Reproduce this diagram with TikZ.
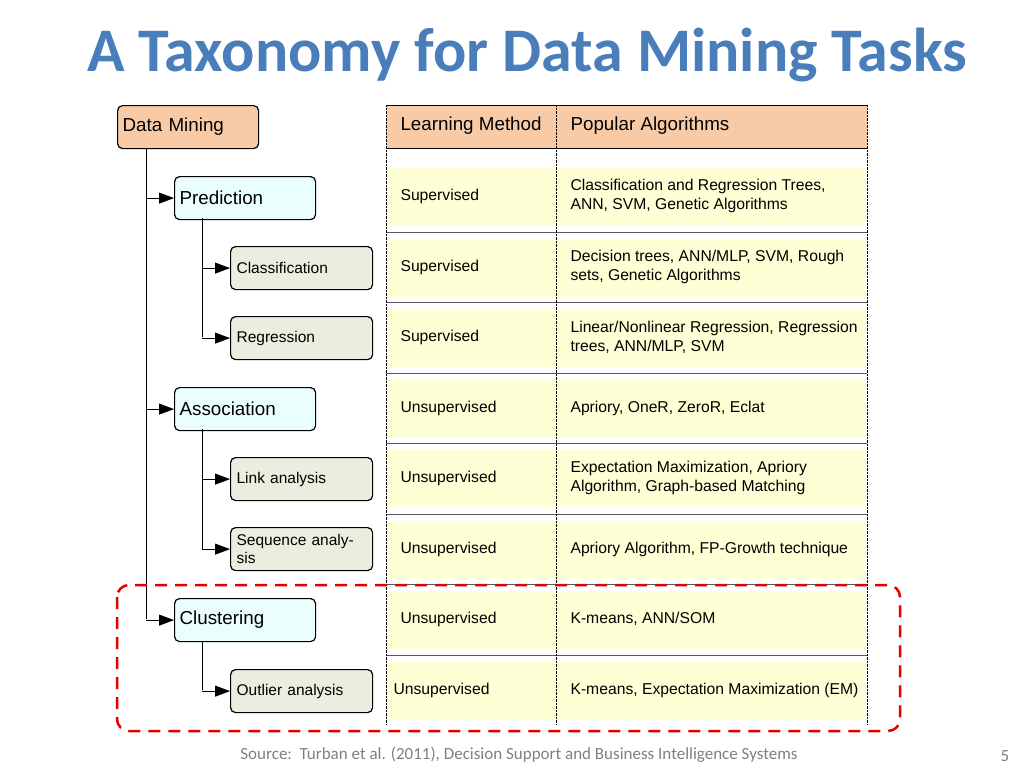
\documentclass[tikz,border=0pt]{standalone}
\usepackage{fontspec}
\setmainfont{Liberation Sans}
\newfontfamily\titlefont{Carlito}
\usetikzlibrary{arrows.meta}
\definecolor{peach}{HTML}{F8CBA6}
\definecolor{cyanbox}{HTML}{EBFEFE}
\definecolor{greybox}{HTML}{EBEEDF}
\definecolor{rowyellow}{HTML}{FFFFD6}
\definecolor{titleblue}{HTML}{4A7EBB}
\tikzset{
  topbox/.style={draw, line width=1.2pt, rounded corners=5pt, minimum width=141pt, minimum height=43pt, anchor=north west, text width=131pt, align=left, font=\fontsize{18.8}{22}\selectfont},
  subbox/.style={draw, line width=1.2pt, rounded corners=5pt, fill=greybox, minimum width=142pt, minimum height=43pt, anchor=north west, inner sep=6pt, text width=130pt, align=left, font=\fontsize{15.5}{18}\selectfont},
  celltext/.style={anchor=west, align=left, font=\fontsize{15.7}{19}\selectfont},
  branch/.style={thick, -{Triangle[length=15pt,width=11pt]}}
}
\begin{document}
\begin{tikzpicture}[x=1pt,y=-1pt]
\useasboundingbox (0,0) rectangle (1024,768);

% title and footer
\node[font=\titlefont\bfseries\fontsize{62}{68}\selectfont, text=titleblue] (title) at (527,55) {A Taxonomy for Data Mining Tasks};
\node[font=\titlefont\fontsize{17}{20}\selectfont, text=gray] (source) at (519,755) {Source:\ \ Turban et al. (2011), Decision Support and Business Intelligence Systems};
\node[font=\titlefont\fontsize{17}{20}\selectfont, text=gray] (pagenum) at (1005,756) {5};

% table rows
\fill[peach] (386,105) rectangle (867,148);
\foreach \y in {196,267,337,408,478,549,619,690}
  \fill[rowyellow] (387,\y-28) rectangle (866,\y+30);
\draw[thick] (386,105) -- (867,105);
\draw[thick] (386,148) -- (867,148);
\foreach \y in {232,302,373,443,514,584,655}
  \draw[gray!70!black] (386,\y) -- (867,\y);
\draw[densely dotted] (386,105) -- (386,725);
\draw[densely dotted] (867,105) -- (867,725);
\draw[densely dotted] (556,105) -- (556,725);
\node[celltext, font=\fontsize{18.8}{22}\selectfont] (hmethod) at (397,126) {Learning Method};
\node[celltext, font=\fontsize{18.8}{22}\selectfont] (halgo) at (567,126) {Popular Algorithms};

% table cells
\node[celltext] (m1) at (397,196) {Supervised};
\node[celltext] (a1) at (567,196) {Classification and Regression Trees,\\ANN, SVM, Genetic Algorithms};
\node[celltext] (m2) at (397,267) {Supervised};
\node[celltext] (a2) at (567,267) {Decision trees, ANN/MLP, SVM, Rough\\sets, Genetic Algorithms};
\node[celltext] (m3) at (397,337) {Supervised};
\node[celltext] (a3) at (567,337) {Linear/Nonlinear Regression, Regression\\trees, ANN/MLP, SVM};
\node[celltext] (m4) at (397,408) {Unsupervised};
\node[celltext] (a4) at (567,408) {Apriory, OneR, ZeroR, Eclat};
\node[celltext] (m5) at (397,478) {Unsupervised};
\node[celltext] (a5) at (567,478) {Expectation Maximization, Apriory\\Algorithm, Graph-based Matching};
\node[celltext] (m6) at (397,549) {Unsupervised};
\node[celltext] (a6) at (567,549) {Apriory Algorithm, FP-Growth technique};
\node[celltext] (m7) at (397,619) {Unsupervised};
\node[celltext] (a7) at (567,619) {K-means, ANN/SOM};
\node[celltext] (m8) at (390,690) {Unsupervised};
\node[celltext] (a8) at (567,690) {K-means, Expectation Maximization (EM)};

% tree boxes
\node[topbox, fill=peach] (mining) at (117,105) {Data Mining};
\node[topbox, fill=cyanbox] (prediction) at (174,176) {Prediction};
\node[subbox] (classif) at (230,246) {Classification};
\node[subbox] (regress) at (230,316) {Regression};
\node[topbox, fill=cyanbox] (assoc) at (174,387) {Association};
\node[subbox] (link) at (230,457) {Link analysis};
\node[subbox] (sequence) at (230,527) {Sequence analysis};
\node[topbox, fill=cyanbox] (cluster) at (174,598) {Clustering};
\node[subbox] (outlier) at (230,669) {Outlier analysis};

% trunks and branches
\draw[thick] (146,148) -- (146,619);
\foreach \b in {prediction,assoc,cluster}
  \draw[branch] (146,0 |- \b.west) -- (\b.west);
\draw[thick] (202,218) -- (202,337);
\draw[thick] (202,429) -- (202,549);
\draw[thick] (202,641) -- (202,690);
\foreach \b in {classif,regress,link,sequence,outlier}
  \draw[branch] (202,0 |- \b.west) -- (\b.west);

% highlight
\draw[red!90!black, line width=2.5pt, dash pattern=on 12pt off 8pt, rounded corners=12pt] (117,585) rectangle (900,731);
\end{tikzpicture}
\end{document}
